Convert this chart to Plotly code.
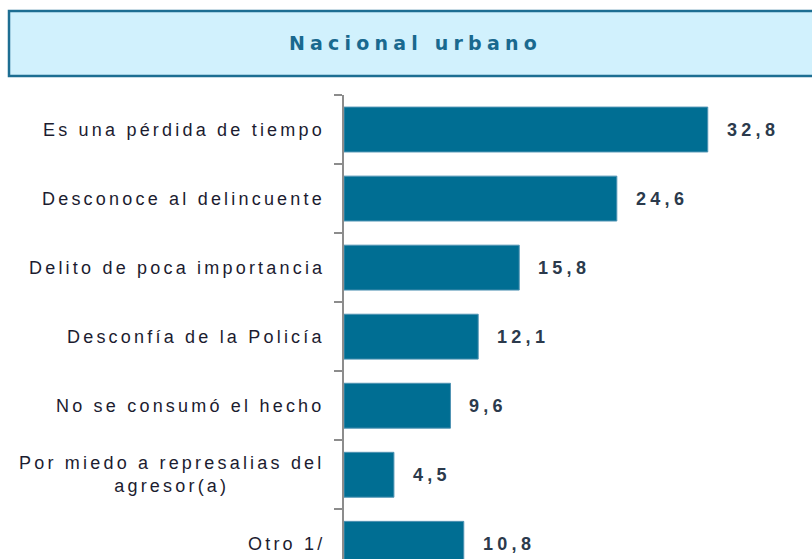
import plotly.graph_objects as go

categories = [
    "Es una pérdida de tiempo",
    "Desconoce al delincuente",
    "Delito de poca importancia",
    "Desconfía de la Policía",
    "No se consumó el hecho",
    "Por miedo a represalias del<br>agresor(a)",
    "Otro 1/",
]
values = [32.8, 24.6, 15.8, 12.1, 9.6, 4.5, 10.8]
value_labels = ["32,8", "24,6", "15,8", "12,1", "9,6", "4,5", "10,8"]
title_text = "Nacional urbano"

W, H = 812, 559
BAR = "#006e93"
LS_LABEL = "letter-spacing:3.2px"
LS_VALUE = "letter-spacing:4.3px"

fig = go.Figure()
fig.add_trace(go.Bar(
    y=categories, x=values, orientation="h",
    marker=dict(color=BAR, line=dict(color="#4f93b3", width=1)),
    hoverinfo="skip",
))

annotations = []
for c, v, t in zip(categories, values, value_labels):
    annotations.append(dict(
        x=v, y=c, xref="x", yref="y", text=f"<span style='{LS_VALUE}'><b>{t}</b></span>",
        showarrow=False, xanchor="left", yanchor="middle", xshift=17,
        font=dict(family="Liberation Sans, Arial", size=18, color="#2b3a4c"),
    ))
    lines = c.split("<br>")
    txt = "<br>".join(f"<span style='{LS_LABEL}'>{ln}</span>" for ln in lines)
    annotations.append(dict(
        x=0, y=c, xref="x", yref="y", text=txt,
        showarrow=False, xanchor="right", yanchor="middle", xshift=-17,
        align="center",
        font=dict(family="Liberation Sans, Arial", size=18, color="#1c1c30"),
    ))

annotations.append(dict(
    x=415 / W, y=1 - 43 / H, xref="paper", yref="paper",
    text=f"<b><span style='letter-spacing:5.2px'>{title_text}</span></b>",
    showarrow=False, xanchor="center", yanchor="middle",
    font=dict(family="DejaVu Sans, Verdana", size=19, color="#19698f"),
))

fig.update_layout(
    width=W, height=H,
    margin=dict(l=0, r=0, t=0, b=0),
    paper_bgcolor="white", plot_bgcolor="white",
    showlegend=False,
    bargap=0.35,
    xaxis=dict(domain=[344 / W, 1], range=[0, 42.2], showgrid=False,
               zeroline=False, showticklabels=False, showline=False, ticks=""),
    yaxis=dict(domain=[0, 1 - 95 / H], range=[6.22, -0.5], type="category",
               showgrid=False, zeroline=False, showticklabels=False,
               showline=True, linecolor="#8c8c8c", linewidth=2,
               ticks="outside", tickson="boundaries", ticklen=8,
               tickcolor="#8c8c8c", tickwidth=2),
    annotations=annotations,
    shapes=[dict(type="rect", xref="paper", yref="paper",
                 x0=9 / W, x1=823 / W, y0=1 - 76 / H, y1=1 - 11 / H,
                 line=dict(color="#1d6e92", width=2.5),
                 fillcolor="#d1f1fd", layer="below")],
)

fig.write_html(
    "out.html",
    config={"displayModeBar": False},
    post_script="document.body.style.margin='0';document.body.style.overflow='hidden';",
)
